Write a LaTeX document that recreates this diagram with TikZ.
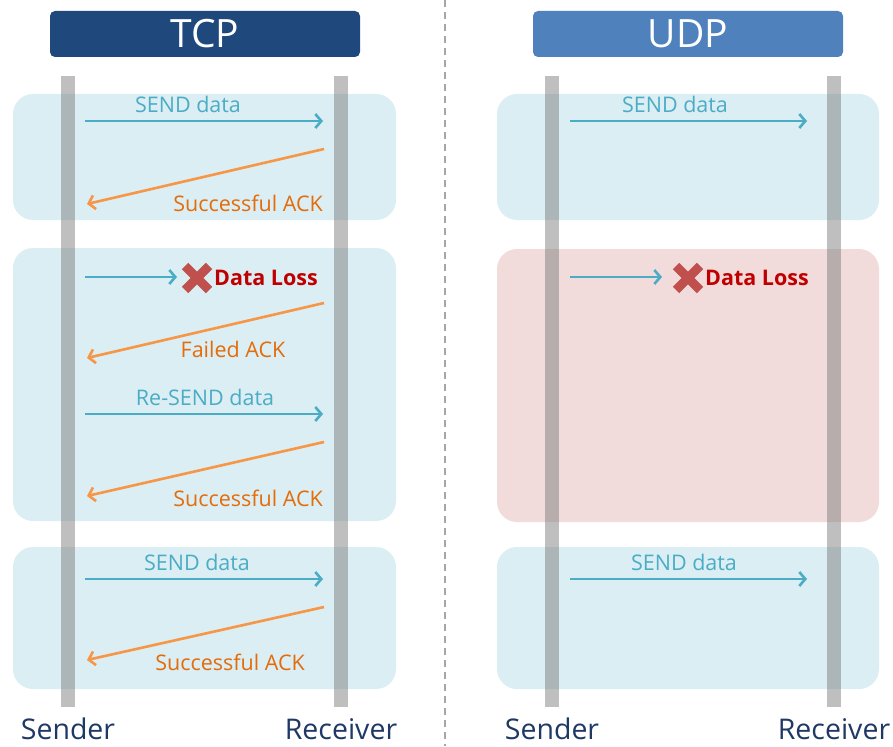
\documentclass[tikz,border=0pt]{standalone}
\usepackage{fontspec}
\setmainfont{Open Sans}
\usetikzlibrary{arrows.meta}
\definecolor{tcpblue}{HTML}{1F497D}
\definecolor{udpblue}{HTML}{4F81BD}
\definecolor{phaseblue}{HTML}{DAEEF3}
\definecolor{phasered}{HTML}{F2DCDB}
\definecolor{sendcol}{HTML}{4BACC6}
\definecolor{ackcol}{HTML}{F79646}
\definecolor{acktext}{HTML}{E46C0A}
\definecolor{losscol}{HTML}{C00000}
\definecolor{crosscol}{HTML}{C0504D}
\definecolor{rolecol}{HTML}{1F3864}
\tikzset{
  header/.style={fill=#1, rounded corners=5pt, minimum width=310pt, minimum height=46pt,
    inner sep=0pt, text=white, font=\fontsize{39}{40}\selectfont},
  phase/.style={fill=#1, rounded corners=20pt},
  lifeline/.style={draw=black!50, opacity=0.5, line width=14pt},
  role/.style={text=rolecol, inner sep=0pt, font=\fontsize{28.5}{30}\selectfont},
  sendarrow/.style={draw=sendcol, line width=2.6pt, -{Straight Barb[length=6pt, width=14pt, line width=2.6pt]}},
  ackarrow/.style={draw=ackcol, line width=2.6pt, -{Straight Barb[length=6pt, width=14pt, line width=2.6pt]}},
  sendlabel/.style={text=sendcol, inner sep=0pt, font=\fontsize{21.5}{22}\selectfont},
  acklabel/.style={text=acktext, inner sep=0pt, font=\fontsize{21.5}{22}\selectfont},
  losslabel/.style={text=losscol, inner sep=0pt, font=\fontsize{21.5}{22}\selectfont\bfseries},
  crossbar/.style={draw=crosscol, line width=9pt}
}
\begin{document}
\begin{tikzpicture}[x=1pt, y=-1pt]
  \useasboundingbox (0,0) rectangle (893,746);
  \draw[gray!70, line width=1.3pt, dash pattern=on 7pt off 5pt] (445,0) -- (445,746);

  \node[header=tcpblue] (tcp) at (205,34) {TCP};
  \node[header=udpblue] (udp) at (688,34) {UDP};

  % phases
  \fill[phase=phaseblue] (13,94) rectangle (396,220);
  \fill[phase=phaseblue] (13,248) rectangle (396,521);
  \fill[phase=phaseblue] (13,547) rectangle (396,689);
  \fill[phase=phaseblue] (497,94) rectangle (879,220);
  \fill[phase=phasered] (497,249) rectangle (879,522);
  \fill[phase=phaseblue] (497,547) rectangle (879,689);

  % lifelines
  \foreach \n/\x/\t in {ts/68/Sender, tr/341/Receiver, us/552/Sender, ur/834/Receiver} {
    \coordinate (\n-top) at (\x,76);
    \coordinate (\n-bot) at (\x,707);
    \draw[lifeline] (\n-top) -- (\n-bot);
    \node[role] (\n-name) at (\x,729) {\t};
  }

  % TCP
  \coordinate (t1a) at (85,121);  \coordinate (t1b) at (323,121);
  \coordinate (t2a) at (324,149); \coordinate (t2b) at (87,204);
  \coordinate (t3a) at (85,277);  \coordinate (t3b) at (177,277);
  \coordinate (t4a) at (324,303); \coordinate (t4b) at (87,358);
  \coordinate (t5a) at (85,414);  \coordinate (t5b) at (323,414);
  \coordinate (t6a) at (324,442); \coordinate (t6b) at (87,496);
  \coordinate (t7a) at (85,579);  \coordinate (t7b) at (323,579);
  \coordinate (t8a) at (324,607); \coordinate (t8b) at (87,660);
  \draw[sendarrow] (t1a) -- (t1b);
  \draw[ackarrow] (t2a) -- (t2b);
  \draw[sendarrow] (t3a) -- (t3b);
  \draw[ackarrow] (t4a) -- (t4b);
  \draw[sendarrow] (t5a) -- (t5b);
  \draw[ackarrow] (t6a) -- (t6b);
  \draw[sendarrow] (t7a) -- (t7b);
  \draw[ackarrow] (t8a) -- (t8b);
  \node[sendlabel] (t1l) at (188,104) {SEND data};
  \node[acklabel, anchor=east] (t2l) at (323,203) {Successful ACK};
  \node[acklabel] (t4l) at (233,349) {Failed ACK};
  \node[sendlabel] (t5l) at (205,397) {Re-SEND data};
  \node[acklabel, anchor=east] (t6l) at (323,498) {Successful ACK};
  \node[sendlabel] (t7l) at (197,562) {SEND data};
  \node[acklabel, anchor=east] (t8l) at (305,662) {Successful ACK};
  \node[losslabel, anchor=west] (tloss) at (214,278) {Data Loss};
  \draw[crossbar] (197,278) +(-12,-12) -- +(12,12) +(-12,12) -- +(12,-12);

  % UDP
  \coordinate (u1a) at (570,121); \coordinate (u1b) at (807,121);
  \coordinate (u3a) at (570,277); \coordinate (u3b) at (662,277);
  \coordinate (u7a) at (570,579); \coordinate (u7b) at (807,579);
  \draw[sendarrow] (u1a) -- (u1b);
  \draw[sendarrow] (u3a) -- (u3b);
  \draw[sendarrow] (u7a) -- (u7b);
  \node[sendlabel] (u1l) at (675,104) {SEND data};
  \node[sendlabel] (u7l) at (684,562) {SEND data};
  \node[losslabel, anchor=west] (uloss) at (705,278) {Data Loss};
  \draw[crossbar] (688,278) +(-12,-12) -- +(12,12) +(-12,12) -- +(12,-12);
\end{tikzpicture}
\end{document}
